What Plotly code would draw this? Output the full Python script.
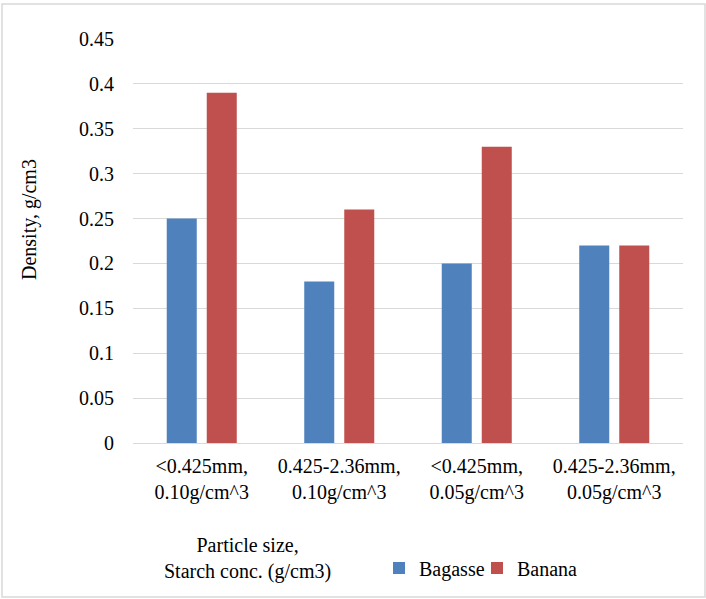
import plotly.graph_objects as go

categories = ["&lt;0.425mm,<br>0.10g/cm^3", "0.425-2.36mm,<br>0.10g/cm^3",
              "&lt;0.425mm,<br>0.05g/cm^3", "0.425-2.36mm,<br>0.05g/cm^3"]
bagasse = [0.25, 0.18, 0.20, 0.22]
banana = [0.39, 0.26, 0.33, 0.22]
y_ticks = [0, 0.05, 0.1, 0.15, 0.2, 0.25, 0.3, 0.35, 0.4, 0.45]
y_tick_text = ["0", "0.05", "0.1", "0.15", "0.2", "0.25", "0.3", "0.35", "0.4", "0.45"]

FONT = "Liberation Serif"
W, H = 706, 599
L, R, T, B = 133, 23, 39, 156
pw, ph = W - L - R, H - T - B

def px(x):
    return (x - L) / pw

def py(y):
    return (H - B - y) / ph

fig = go.Figure()
fig.add_trace(go.Bar(name="Bagasse", x=categories, y=bagasse, marker_color="#4F81BD",
                     marker_line_width=0, legendwidth=53))
fig.add_trace(go.Bar(name="Banana", x=categories, y=banana, marker_color="#C0504D",
                     marker_line_width=0, legendwidth=75))

fig.update_layout(
    width=W, height=H,
    margin=dict(l=L, r=R, t=T, b=B),
    paper_bgcolor="white", plot_bgcolor="white",
    font=dict(family=FONT, size=20, color="black"),
    barmode="group", bargap=0.418, bargroupgap=0.25,
    showlegend=True,
    legend=dict(orientation="h", x=px(379), y=py(568), xanchor="left", yanchor="middle",
                font=dict(family=FONT, size=20, color="black"), itemwidth=30, tracegroupgap=0,
                bgcolor="rgba(0,0,0,0)"),
    xaxis=dict(showgrid=False, showline=True, linecolor="#d9d9d9", linewidth=1,
               ticks="", ticklabelstandoff=5,
               tickfont=dict(family=FONT, size=20, color="black"), fixedrange=True),
    yaxis=dict(range=[0, 0.45], tickvals=y_ticks, ticktext=y_tick_text,
               showgrid=True, gridcolor="#d9d9d9", gridwidth=1,
               zeroline=True, zerolinecolor="#d9d9d9", zerolinewidth=1,
               showline=False, ticks="", ticklabelstandoff=18, fixedrange=True,
               tickfont=dict(family=FONT, size=20, color="black")),
    shapes=[dict(type="rect", xref="paper", yref="paper",
                 x0=px(2), x1=px(705), y0=py(597), y1=py(4),
                 line=dict(color="#d9d9d9", width=1.5), layer="below")],
    annotations=[
        dict(text="Density, g/cm3", textangle=-90, xref="paper", yref="paper",
             x=px(30), y=py(220), showarrow=False, xanchor="center", yanchor="middle",
             font=dict(family=FONT, size=20, color="black")),
        dict(text="Particle size,<br>Starch conc. (g/cm3)", xref="paper", yref="paper",
             x=px(247), y=py(558), showarrow=False, xanchor="center", yanchor="middle",
             align="center", font=dict(family=FONT, size=20, color="black")),
    ],
)

fig.write_html("out.html", config={"displayModeBar": False},
               post_script="document.body.style.margin='0';document.body.style.overflow='hidden';")
